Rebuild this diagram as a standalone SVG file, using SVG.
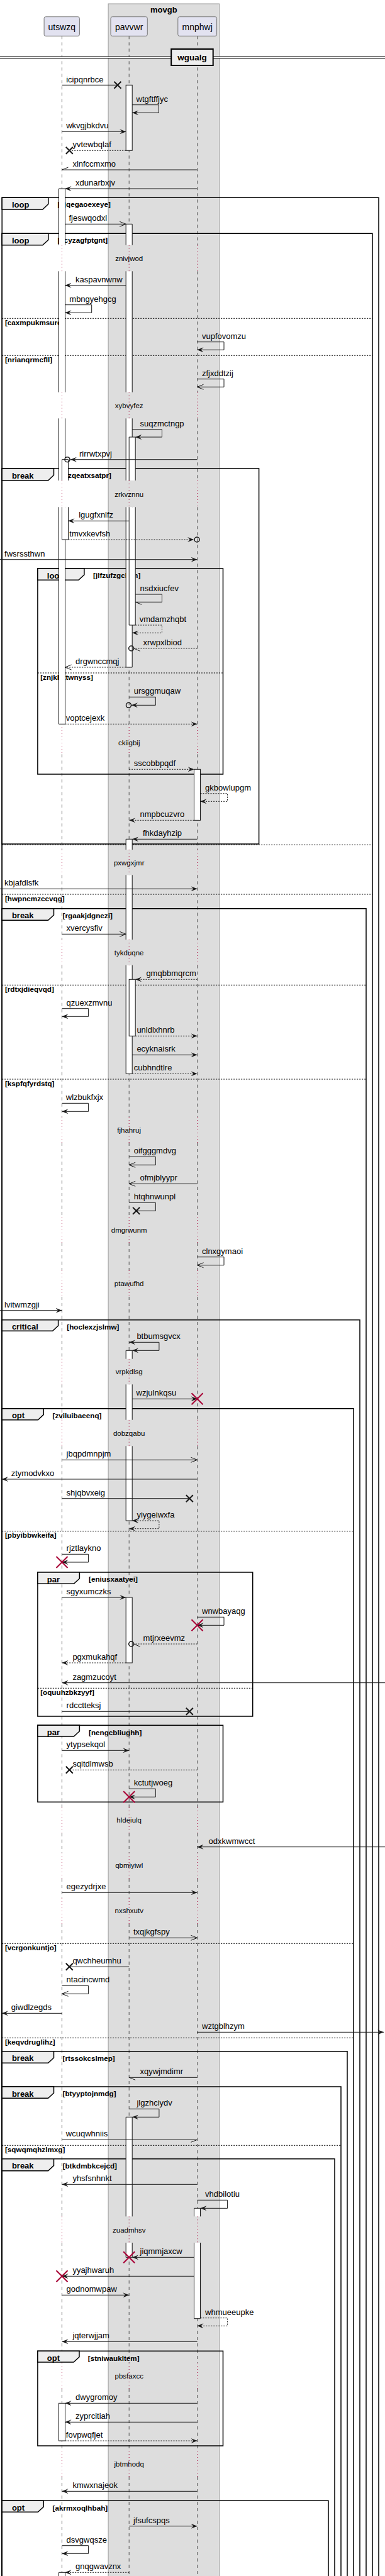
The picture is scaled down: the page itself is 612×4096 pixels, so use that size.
<svg xmlns="http://www.w3.org/2000/svg" width="612" height="4096" viewBox="0 0 612 4096">
<style>
.ll{stroke:#555;stroke-width:1;stroke-dasharray:5,5;fill:none}
.dl{stroke:#A80036;stroke-width:1;stroke-dasharray:1,4;fill:none}
.af{fill:#fff;stroke:none}
.as{fill:none;stroke:#181818;stroke-width:1}
.ac{fill:#fff;stroke:#181818;stroke-width:1}
.fr{fill:none;stroke:#000;stroke-width:1.5}
.tab{fill:#EEEEEE;stroke:#000;stroke-width:1.5}
.el{stroke:#000;stroke-width:1;stroke-dasharray:2,2;fill:none}
.m{stroke:#181818;stroke-width:1;fill:none}
.d{stroke-dasharray:2,2}
.x{stroke:#181818;stroke-width:2;fill:none}
.rx{stroke:#A80036;stroke-width:2;fill:none}
.c{stroke:#181818;stroke-width:1.5;fill:none}
.pb{fill:#E2E2F0;stroke:#777;stroke-width:1}
text{font-family:"Liberation Sans",Arial,sans-serif;fill:#000}
.t{font-size:13px}
.pt{font-size:14px;text-anchor:middle}
.dt{font-size:11.5px;text-anchor:middle}
.ft{font-size:13px;font-weight:bold}
.ct{font-size:11.7px;font-weight:bold}
</style>
<defs>
<marker id="fa" viewBox="0 0 10 8" refX="10" refY="4" markerWidth="10" markerHeight="8" markerUnits="userSpaceOnUse" orient="auto-start-reverse"><path d="M0,0 L10,4 L0,8 L4,4Z" fill="#181818"/></marker>
<marker id="oa" viewBox="-1 -1 12 10" refX="10" refY="4" markerWidth="12" markerHeight="10" markerUnits="userSpaceOnUse" orient="auto" style="overflow:visible"><path d="M0,0 L10,4 L0,8" fill="none" stroke="#181818" stroke-width="1"/></marker>
</defs>
<rect width="612" height="4096" fill="#fff"/>
<g id="box-movgb">
<rect x="172.1" y="6" width="176.5" height="4100" fill="#DDDDDD" stroke="#999" stroke-width="1"/>
<text x="260.3" y="19.5" class="ft" text-anchor="middle">movgb</text>
</g>
<g id="lifelines">
<path class="ll" d="M98.5,57.3V389.7M98.5,431.3V623.7M98.5,665.3V764M98.5,806.3V1156M98.5,1199.3V1351M98.5,1391.3V1494M98.5,1534.7V1776M98.5,1817V1935M98.5,1976V2020M98.5,2062V2160.7M98.5,2201.3V2257.7M98.5,2299.3V2874M98.5,2915V2946M98.5,2987V3018M98.5,3059V3524.3M98.5,3566V3757M98.5,3798V3897M98.5,3938V4096"/>
<path class="ll" d="M205.2,57.3V389.7M205.2,431.3V623.7M205.2,665.3V764M205.2,806.3V1156M205.2,1199.3V1351M205.2,1391.3V1494M205.2,1534.7V1776M205.2,1817V1935M205.2,1976V2020M205.2,2062V2160.7M205.2,2201.3V2257.7M205.2,2299.3V2874M205.2,2915V2946M205.2,2987V3018M205.2,3059V3524.3M205.2,3566V3757M205.2,3798V3897M205.2,3938V4096"/>
<path class="ll" d="M313.5,57.3V389.7M313.5,431.3V623.7M313.5,665.3V764M313.5,806.3V1156M313.5,1199.3V1351M313.5,1391.3V1494M313.5,1534.7V1776M313.5,1817V1935M313.5,1976V2020M313.5,2062V2160.7M313.5,2201.3V2257.7M313.5,2299.3V2874M313.5,2915V2946M313.5,2987V3018M313.5,3059V3524.3M313.5,3566V3757M313.5,3798V3897M313.5,3938V4096"/>
<path class="dl" d="M98.5,389.7V431.3M98.5,623.7V665.3M98.5,764V806.3M98.5,1156V1199.3M98.5,1351V1391.3M98.5,1494V1534.7M98.5,1776V1817M98.5,1935V1976M98.5,2020V2062M98.5,2160.7V2201.3M98.5,2257.7V2299.3M98.5,2874V2915M98.5,2946V2987M98.5,3018V3059M98.5,3524.3V3566M98.5,3757V3798M98.5,3897V3938"/>
<path class="dl" d="M205.2,389.7V431.3M205.2,623.7V665.3M205.2,764V806.3M205.2,1156V1199.3M205.2,1351V1391.3M205.2,1494V1534.7M205.2,1776V1817M205.2,1935V1976M205.2,2020V2062M205.2,2160.7V2201.3M205.2,2257.7V2299.3M205.2,2874V2915M205.2,2946V2987M205.2,3018V3059M205.2,3524.3V3566M205.2,3757V3798M205.2,3897V3938"/>
<path class="dl" d="M313.5,389.7V431.3M313.5,623.7V665.3M313.5,764V806.3M313.5,1156V1199.3M313.5,1351V1391.3M313.5,1494V1534.7M313.5,1776V1817M313.5,1935V1976M313.5,2020V2062M313.5,2160.7V2201.3M313.5,2257.7V2299.3M313.5,2874V2915M313.5,2946V2987M313.5,3018V3059M313.5,3524.3V3566M313.5,3757V3798M313.5,3897V3938"/>
<text x="205.2" y="415" class="dt">znivjwod</text>
<text x="205.2" y="649" class="dt">xybvyfez</text>
<text x="205.2" y="790" class="dt">zrkvznnu</text>
<text x="205.2" y="1185" class="dt">ckiigbij</text>
<text x="205.2" y="1376" class="dt">pxwgxjmr</text>
<text x="205.2" y="1519" class="dt">tykduqne</text>
<text x="205.2" y="1800.5" class="dt">fjhahruj</text>
<text x="205.2" y="1959.5" class="dt">dmgrwunm</text>
<text x="205.2" y="2045" class="dt">ptawufhd</text>
<text x="205.2" y="2185" class="dt">vrpkdlsg</text>
<text x="205.2" y="2283" class="dt">dobzqabu</text>
<text x="205.2" y="2898" class="dt">hldeiulq</text>
<text x="205.2" y="2970" class="dt">qbmiyiwl</text>
<text x="205.2" y="3042" class="dt">nxshxutv</text>
<text x="205.2" y="3550" class="dt">zuadmhsv</text>
<text x="205.2" y="3782" class="dt">pbsfaxcc</text>
<text x="205.2" y="3922" class="dt">jbtmhodq</text>
</g>
<g id="utswzq"><rect x="70.1" y="26.7" width="56.3" height="30.6" rx="2.5" class="pb"/><text x="98.3" y="47.5" class="pt">utswzq</text></g>
<g id="pavvwr"><rect x="176" y="26.7" width="58.3" height="30.6" rx="2.5" class="pb"/><text x="205.2" y="47.5" class="pt">pavvwr</text></g>
<g id="mnphwj"><rect x="282.8" y="26.7" width="61.8" height="30.6" rx="2.5" class="pb"/><text x="313.7" y="47.5" class="pt">mnphwj</text></g>
<g id="divider-wgualg">
<rect x="0" y="90" width="612" height="2.7" fill="#fff"/>
<path d="M0,90H612M0,92.7H612" stroke="#000" stroke-width="1"/>
<rect x="272.2" y="78" width="66.5" height="26" fill="#EEEEEE" stroke="#000" stroke-width="2"/>
<text x="305.4" y="96" font-size="13.5" font-weight="bold" text-anchor="middle">wgualg</text>
</g>
<g id="frames">
<g id="f-loop1"><path class="fr" d="M3.2,4100V314.3H602V4100"/><polygon class="tab" points="3.2,314.3 76.8,314.3 76.8,324.5 67.8,333 3.2,333"/><text x="18.9" y="329.5" class="ft">loop</text><text x="91.4" y="329.3" class="ct">[cjqegaoexeye]</text></g>
<g id="f-loop2"><path class="fr" d="M3.2,4100V371.3H592V4100"/><polygon class="tab" points="3.2,371.3 76.8,371.3 76.8,381.5 67.8,389.7 3.2,389.7"/><text x="18.9" y="386.5" class="ft">loop</text><text x="91.4" y="386.3" class="ct">[ccyzagfptgnt]</text>
<path class="el" d="M3.2,506.3H592M3.2,565.3H592M3.2,1343.3H592M3.2,1422H592"/>
<text x="7.9" y="516.8" class="ct">[caxmpukmsurq]</text><text x="7.9" y="575.8" class="ct">[nrianqrmcfll]</text><text x="7.9" y="1432.5" class="ct">[hwpncmzccvqg]</text></g>
<g id="f-break1"><rect class="fr" x="3.2" y="745" width="408.4" height="597"/><polygon class="tab" points="3.2,745 85.5,745 85.5,755.5 76.5,764 3.2,764"/><text x="18.9" y="760.5" class="ft">break</text><text x="99.6" y="760.3" class="ct">[rzqeatxsatpr]</text></g>
<g id="f-loop3"><rect class="fr" x="59.9" y="904" width="294.6" height="327"/><polygon class="tab" points="59.9,904 133.9,904 133.9,914 124.9,922.3 59.9,922.3"/><text x="74.8" y="919.5" class="ft">loop</text><text x="148.1" y="919.3" class="ct">[jlfzufzgchjm]</text>
<path class="el" d="M59.9,1070H354.5"/><text x="64.2" y="1080.5" class="ct">[znjkhktwnyss]</text></g>
<g id="f-break2"><path class="fr" d="M3.2,4100V1444.7H582V4100"/><polygon class="tab" points="3.2,1444.7 85.5,1444.7 85.5,1455 76.5,1463.3 3.2,1463.3"/><text x="18.9" y="1460.2" class="ft">break</text><text x="99.6" y="1460" class="ct">[rgaakjdgnezi]</text>
<path class="el" d="M3.2,1566.3H582M3.2,1716H582"/><text x="7.9" y="1576.8" class="ct">[rdtxjdieqvqd]</text><text x="7.9" y="1726.5" class="ct">[kspfqfyrdstq]</text></g>
<g id="f-critical"><path class="fr" d="M3.2,4100V2098.7H572V4100"/><polygon class="tab" points="3.2,2098.7 92.6,2098.7 92.6,2108 83.6,2116.3 3.2,2116.3"/><text x="18.9" y="2114.2" class="ft">critical</text><text x="106.3" y="2114" class="ct">[hoclexzjslmw]</text></g>
<g id="f-opt1"><path class="fr" d="M3.2,4100V2239.7H562V4100"/><polygon class="tab" points="3.2,2239.7 69.3,2239.7 69.3,2249.3 60.3,2257.7 3.2,2257.7"/><text x="18.9" y="2255.2" class="ft">opt</text><text x="83.5" y="2255" class="ct">[zviluibaeenq]</text>
<path class="el" d="M3.2,2434.7H562M3.2,3090.3H562M3.2,3240.3H562"/><text x="7.9" y="2445.2" class="ct">[pbyibbwkeifa]</text><text x="7.9" y="3100.8" class="ct">[vcrgonkuntjo]</text><text x="7.9" y="3250.8" class="ct">[keqvdruglihz]</text></g>
<g id="f-par1"><rect class="fr" x="59.9" y="2500" width="341.8" height="229"/><polygon class="tab" points="59.9,2500 126.4,2500 126.4,2510 117.4,2518.3 59.9,2518.3"/><text x="74.8" y="2515.5" class="ft">par</text><text x="141" y="2515.3" class="ct">[eniusxaatyei]</text>
<path class="el" d="M59.9,2684.3H401.7"/><text x="64.2" y="2694.8" class="ct">[oquuhzbkzyyf]</text></g>
<g id="f-par2"><rect class="fr" x="59.9" y="2743.3" width="294.6" height="122"/><polygon class="tab" points="59.9,2743.3 126.4,2743.3 126.4,2752.7 117.4,2761 59.9,2761"/><text x="74.8" y="2758.8" class="ft">par</text><text x="141" y="2758.6" class="ct">[nengcbliughh]</text></g>
<g id="f-break3"><path class="fr" d="M3.2,4100V3261.7H552V4100"/><polygon class="tab" points="3.2,3261.7 85.5,3261.7 85.5,3272 76.5,3280.3 3.2,3280.3"/><text x="18.9" y="3277.2" class="ft">break</text><text x="99.6" y="3277" class="ct">[rtssokcslmep]</text></g>
<g id="f-break4"><path class="fr" d="M3.2,4100V3318H542V4100"/><polygon class="tab" points="3.2,3318 85.5,3318 85.5,3328 76.5,3336.3 3.2,3336.3"/><text x="18.9" y="3333.5" class="ft">break</text><text x="99.6" y="3333.3" class="ct">[btyyptojnmdg]</text>
<path class="el" d="M3.2,3411.3H542"/><text x="7.9" y="3421.8" class="ct">[sqwqmqhzlmxg]</text></g>
<g id="f-break5"><path class="fr" d="M3.2,4100V3432.7H532V4100"/><polygon class="tab" points="3.2,3432.7 85.5,3432.7 85.5,3443.3 76.5,3451.7 3.2,3451.7"/><text x="18.9" y="3448.2" class="ft">break</text><text x="99.6" y="3448" class="ct">[btkdmbkcejcd]</text></g>
<g id="f-opt2"><rect class="fr" x="59.9" y="3738.3" width="294.6" height="150.7"/><polygon class="tab" points="59.9,3738.3 126,3738.3 126,3747.7 117,3756 59.9,3756"/><text x="74.8" y="3753.8" class="ft">opt</text><text x="139.8" y="3753.6" class="ct">[stniwaukltem]</text></g>
<g id="f-opt3"><path class="fr" d="M3.2,4100V3976.3H522V4100"/><polygon class="tab" points="3.2,3976.3 69.3,3976.3 69.3,3986 60.3,3994.3 3.2,3994.3"/><text x="18.9" y="3991.8" class="ft">opt</text><text x="83.5" y="3991.6" class="ct">[akrmxoqlhbah]</text></g>
</g>
<g id="activations">
<rect class="af" x="93.5" y="300" width="10" height="89.7"/><rect class="af" x="93.5" y="431.3" width="10" height="192.4"/><rect class="af" x="93.5" y="665.3" width="10" height="98.7"/><rect class="af" x="93.5" y="806.3" width="10" height="345"/>
<path class="as" d="M93.5,389.7V300H103.5V389.7M93.5,431.3V623.7M103.5,431.3V623.7M93.5,665.3V764M103.5,665.3V764M93.5,806.3V1151.3H103.5V806.3"/>
<rect class="af" x="98.5" y="730.7" width="10" height="33.3"/><rect class="af" x="98.5" y="806.3" width="10" height="51.7"/>
<path class="as" d="M98.5,764V730.7H108.5V764M98.5,806.3V858H108.5V806.3"/>
<rect class="ac" x="93.5" y="3821.3" width="10" height="59.7"/>
<rect class="af" x="93.5" y="4090.3" width="10" height="10"/><path class="as" d="M93.5,4100V4090.3H103.5V4100"/>
<rect class="ac" x="200.2" y="135.3" width="10" height="104"/>
<rect class="af" x="200.2" y="356.3" width="10" height="33.4"/><rect class="af" x="200.2" y="431.3" width="10" height="192.4"/><rect class="af" x="200.2" y="665.3" width="10" height="98.7"/><rect class="af" x="200.2" y="806.3" width="10" height="254.7"/>
<path class="as" d="M200.2,389.7V356.3H210.2V389.7M200.2,431.3V623.7M210.2,431.3V623.7M200.2,665.3V764M210.2,665.3V764M200.2,806.3V1061H210.2V806.3"/>
<rect class="af" x="205.2" y="695" width="10" height="69"/><rect class="af" x="205.2" y="806.3" width="10" height="187.7"/>
<path class="as" d="M205.2,764V695H215.2V764M205.2,806.3V994H215.2V806.3"/>
<rect class="af" x="200.2" y="1334.3" width="10" height="16.7"/><rect class="af" x="200.2" y="1391.3" width="10" height="102.7"/><rect class="af" x="200.2" y="1534.7" width="10" height="172.6"/>
<path class="as" d="M200.2,1351V1334.3H210.2V1351M200.2,1391.3V1494M210.2,1391.3V1494M200.2,1534.7V1707.3H210.2V1534.7"/>
<rect class="ac" x="205.2" y="1557.3" width="10" height="90"/>
<rect class="af" x="200.2" y="2147.3" width="10" height="13.4"/><rect class="af" x="200.2" y="2201.3" width="10" height="56.4"/><rect class="af" x="200.2" y="2299.3" width="10" height="118.7"/>
<path class="as" d="M200.2,2160.7V2147.3H210.2V2160.7M200.2,2201.3V2257.7M210.2,2201.3V2257.7M200.2,2299.3V2418H210.2V2299.3"/>
<rect class="ac" x="200.2" y="2540" width="10" height="104"/>
<rect class="af" x="200.2" y="3366.3" width="10" height="158"/><rect class="af" x="200.2" y="3566" width="10" height="23.3"/>
<path class="as" d="M200.2,3524.3V3366.3H210.2V3524.3M200.2,3566V3589.3H210.2V3566"/>
<rect class="ac" x="308.5" y="1223.3" width="10" height="81"/>
<rect class="af" x="308.5" y="3511.3" width="10" height="13"/><rect class="af" x="308.5" y="3566" width="10" height="120.7"/>
<path class="as" d="M308.5,3524.3V3511.3H318.5V3524.3M308.5,3566V3686.7H318.5V3566"/>
</g>
<g id="messages">
<path class="m" d="M98.5,135.3H187"/><path class="x" d="M181.5,129.8L192.5,140.8M192.5,129.8L181.5,140.8"/><text x="105.2" y="130.5" class="t">icipqnrbce</text>
<path class="m" d="M210.2,166.7H252.5V179.3H210.2" marker-end="url(#fa)"/><text x="216.6" y="161.7" class="t">wtgftffjyc</text>
<path class="m" d="M98.5,209.3H200.2" marker-end="url(#fa)"/><text x="105.2" y="204.3" class="t">wkvgjbkdvu</text>
<path class="m d" d="M200.2,239.3H110.3"/><path class="x" d="M104.8,233.8L115.8,244.8M115.8,233.8L104.8,244.8"/><text x="115.4" y="234.3" class="t">yvtewbqlaf</text>
<path class="m" d="M313.5,270H98.5L108.5,266"/><text x="115.4" y="265" class="t">xlnfccmxmo</text>
<path class="m" d="M313.5,300H103.5" marker-end="url(#fa)"/><text x="120.1" y="295" class="t">xdunarbxjv</text>
<path class="m" d="M103.5,356.3H200.2" marker-end="url(#oa)"/><text x="109.5" y="351.3" class="t">fjeswqodxl</text>
<path class="m" d="M200.2,453.7H103.5" marker-end="url(#fa)"/><text x="120.1" y="448.7" class="t">kaspavnwnw</text>
<path class="m" d="M103.5,484.7H145.7V497.3H103.5" marker-end="url(#fa)"/><text x="110.3" y="479.7" class="t">mbngyehgcg</text>
<path class="m" d="M313.5,543.7H356V556.3H313.5" marker-end="url(#fa)"/><text x="321" y="538.7" class="t">vupfovomzu</text>
<path class="m" d="M313.5,602.7H356V615.3H313.5" marker-end="url(#oa)"/><text x="321" y="597.7" class="t">zfjxddtzij</text>
<path class="m" d="M210.2,682.7H257.5V695H215.2" marker-end="url(#fa)"/><text x="222.5" y="677.7" class="t">suqzmctngp</text>
<path class="m" d="M313.5,730.7H112" marker-end="url(#fa)"/><circle class="c" cx="107" cy="730.7" r="4"/><text x="126" y="725.7" class="t">rirrwtxpvj</text>
<path class="m" d="M205.2,828.3H108.5" marker-end="url(#fa)"/><text x="125.2" y="823.3" class="t">lgugfxnlfz</text>
<path class="m d" d="M108.5,858H308" marker-end="url(#fa)"/><circle class="c" cx="313.1" cy="858" r="4"/><text x="110.3" y="853" class="t">tmvxkevfsh</text>
<path class="m" d="M0,889.7H313.5" marker-end="url(#fa)"/><text x="7.1" y="884.7" class="t">fwsrssthwn</text>
<path class="m" d="M215.2,945H257.5V957.3H215.2L225.2,961.3"/><text x="222.5" y="940" class="t">nsdxiucfev</text>
<path class="m d" d="M215.2,994H257.5V1006.3H210.2" marker-end="url(#fa)"/><text x="221.7" y="989" class="t">vmdamzhqbt</text>
<path class="m d" d="M313.5,1031H212.7"/><path class="m" d="M212.7,1031L222.7,1035.3"/><circle class="c" cx="208.7" cy="1031" r="4"/><text x="227.6" y="1026" class="t">xrwpxlbiod</text>
<path class="m d" d="M200.2,1061H103.5" marker-end="url(#oa)"/><text x="120.1" y="1056" class="t">drgwnccmqj</text>
<path class="m" d="M205.2,1108.3H247.3V1121.3H209" marker-end="url(#fa)"/><circle class="c" cx="204.5" cy="1121.3" r="4"/><text x="212.7" y="1103.3" class="t">ursggmuqaw</text>
<path class="m d" d="M103.5,1151.3H313.5" marker-end="url(#fa)"/><text x="104.8" y="1146.3" class="t">voptcejexk</text>
<path class="m d" d="M205.2,1223.3H308.5" marker-end="url(#fa)"/><text x="212.7" y="1218.3" class="t">sscobbpqdf</text>
<path class="m d" d="M318.5,1261.7H361.5V1274.3H318.5" marker-end="url(#fa)"/><text x="326.1" y="1256.7" class="t">gkbowlupgm</text>
<path class="m d" d="M308.5,1304.3H205.2" marker-end="url(#fa)"/><text x="222.5" y="1299.3" class="t">nmpbcuzvro</text>
<path class="m" d="M313.5,1334.3H210.2" marker-end="url(#fa)"/><text x="226.9" y="1329.3" class="t">fhkdayhzip</text>
<path class="m" d="M0,1413.3H313.5" marker-end="url(#fa)"/><text x="7.1" y="1408.3" class="t">kbjafdlsfk</text>
<path class="m" d="M98.5,1485.3H200.2" marker-end="url(#oa)"/><text x="105.6" y="1480.3" class="t">xvercysfiv</text>
<path class="m d" d="M313.5,1557.3H215.2" marker-end="url(#fa)"/><text x="232.4" y="1552.3" class="t">gmqbbmqrcm</text>
<path class="m" d="M98.5,1603.7H140.6V1616.3H98.5" marker-end="url(#fa)"/><text x="105.6" y="1598.7" class="t">qzuexzmvnu</text>
<path class="m d" d="M215.2,1647.3H313.5" marker-end="url(#fa)"/><text x="217.4" y="1642.3" class="t">unldlxhnrb</text>
<path class="m" d="M210.2,1677.3H313.5" marker-end="url(#fa)"/><text x="217.4" y="1672.3" class="t">ecyknaisrk</text>
<path class="m d" d="M210.2,1707.3H313.5" marker-end="url(#fa)"/><text x="212.7" y="1702.3" class="t">cubhndtlre</text>
<path class="m" d="M98.5,1754.3H140.6V1767.3H98.5" marker-end="url(#fa)"/><text x="104.8" y="1749.3" class="t">wlzbukfxjx</text>
<path class="m" d="M205.2,1839.3H247.3V1852.3H205.2" marker-end="url(#oa)"/><text x="212.7" y="1834.3" class="t">oifgggmdvg</text>
<path class="m" d="M313.5,1882.3H205.2" marker-end="url(#oa)"/><text x="222.5" y="1877.3" class="t">ofmjblyypr</text>
<path class="m" d="M205.2,1912.3H247.3V1925.3H216.6"/><path class="x" d="M211.1,1919.8L222.1,1930.8M222.1,1919.8L211.1,1930.8"/><text x="212.7" y="1907.3" class="t">htqhnwunpl</text>
<path class="m" d="M313.5,1998.7H356V2011.7H313.5" marker-end="url(#oa)"/><text x="321" y="1993.7" class="t">clnxgymaoi</text>
<path class="m" d="M0,2083.7H98.5" marker-end="url(#fa)"/><text x="7.1" y="2078.7" class="t">lvitwmzgji</text>
<path class="m" d="M205.2,2134.3H252.9V2147.3H210.2" marker-start="url(#fa)" marker-end="url(#fa)"/><text x="217.4" y="2129.3" class="t">btbumsgvcx</text>
<path class="m" d="M210.2,2224.3H313.5" marker-end="url(#fa)"/><path class="rx" d="M304.5,2215.3L322.5,2233.3M322.5,2215.3L304.5,2233.3"/><text x="216.6" y="2219.3" class="t">wzjulnkqsu</text>
<path class="m" d="M98.5,2321.3H313.5" marker-end="url(#oa)"/><text x="105.6" y="2316.3" class="t">jbqpdmnpjm</text>
<path class="m" d="M313.5,2352H3" marker-end="url(#fa)"/><text x="17.7" y="2347" class="t">ztymodvkxo</text>
<path class="m" d="M98.5,2382.7H301.3"/><path class="x" d="M295.8,2377.2L306.8,2388.2M306.8,2377.2L295.8,2388.2"/><text x="105.6" y="2377.7" class="t">shjqbvxeig</text>
<path class="m d" d="M210.2,2418H252.9V2430.7H205.2" marker-start="url(#fa)" marker-end="url(#fa)"/><text x="217.4" y="2413" class="t">yiygeiwxfa</text>
<path class="m" d="M98.5,2471.3H140.6V2484H98.5" marker-end="url(#fa)"/><path class="rx" d="M89.5,2475L107.5,2493M107.5,2475L89.5,2493"/><text x="105.6" y="2466.3" class="t">rjztlaykno</text>
<path class="m" d="M98.5,2540H200.2" marker-end="url(#fa)"/><text x="105.6" y="2535" class="t">sgyxumczks</text>
<path class="m" d="M313.5,2571.3H356V2584.3H313.5" marker-end="url(#fa)"/><path class="rx" d="M304.5,2575.3L322.5,2593.3M322.5,2575.3L304.5,2593.3"/><text x="321" y="2566.3" class="t">wnwbayaqg</text>
<path class="m d" d="M313.5,2614H212.7"/><path class="m" d="M212.7,2614L222.7,2618.3"/><circle class="c" cx="208.7" cy="2614" r="4"/><text x="227.6" y="2609" class="t">mtjrxeevmz</text>
<path class="m d" d="M200.2,2644H98.5" marker-end="url(#fa)"/><text x="115.4" y="2639" class="t">pgxmukahqf</text>
<path class="m" d="M612,2675.7H98.5" marker-end="url(#fa)"/><text x="115.4" y="2670.7" class="t">zagmzucoyt</text>
<path class="m" d="M98.5,2721.3H301.3"/><path class="x" d="M295.8,2715.8L306.8,2726.8M306.8,2715.8L295.8,2726.8"/><text x="105.6" y="2716.3" class="t">rdcctteksj</text>
<path class="m" d="M98.5,2783.3H205.2" marker-end="url(#fa)"/><text x="105.6" y="2778.3" class="t">ytypsekqol</text>
<path class="m d" d="M313.5,2814.3H110.3"/><path class="x" d="M104.8,2808.8L115.8,2819.8M115.8,2808.8L104.8,2819.8"/><text x="115.4" y="2809.3" class="t">sqitdlmwsb</text>
<path class="m" d="M205.2,2844.3H247.3V2857.3H205.2" marker-end="url(#fa)"/><path class="rx" d="M196.2,2848.3L214.2,2866.3M214.2,2848.3L196.2,2866.3"/><text x="212.7" y="2839.3" class="t">kctutjwoeg</text>
<path class="m" d="M612,2936.7H313.5" marker-end="url(#fa)"/><text x="331.6" y="2931.7" class="t">odxkwmwcct</text>
<path class="m" d="M98.5,3009.3H313.5" marker-end="url(#fa)"/><text x="105.6" y="3004.3" class="t">egezydrjxe</text>
<path class="m" d="M205.2,3081.3H313.5" marker-end="url(#oa)"/><text x="211.9" y="3076.3" class="t">txqjkgfspy</text>
<path class="m" d="M205.2,3127.3H110.3"/><path class="x" d="M104.8,3121.8L115.8,3132.8M115.8,3121.8L104.8,3132.8"/><text x="115.4" y="3122.3" class="t">qwchheumhu</text>
<path class="m" d="M98.5,3157.3H140.6V3170.3H98.5" marker-end="url(#oa)"/><text x="105.6" y="3152.3" class="t">ntacincwmd</text>
<path class="m" d="M98.5,3201.3H3" marker-end="url(#fa)"/><text x="17.7" y="3196.3" class="t">giwdlzegds</text>
<path class="m" d="M313.5,3231.3H610" marker-end="url(#fa)"/><text x="321" y="3226.3" class="t">wztgblhzym</text>
<path class="m" d="M313.5,3303.3H205.2L215.2,3307.3"/><text x="222.5" y="3298.3" class="t">xqywjmdimr</text>
<path class="m" d="M205.2,3353.3H252.9V3366.3H210.2" marker-end="url(#fa)"/><text x="217.4" y="3348.3" class="t">jlgzhciydv</text>
<path class="m" d="M98.5,3402.3H313.5L303.5,3406.3"/><text x="104.8" y="3397.3" class="t">wcuqwhniis</text>
<path class="m" d="M313.5,3473.3H98.5" marker-end="url(#fa)"/><text x="115.4" y="3468.3" class="t">yhsfsnhnkt</text>
<path class="m" d="M313.5,3498.3H361.6V3511.3H318.5" marker-end="url(#fa)"/><text x="326.1" y="3493.3" class="t">vhdbilotiu</text>
<path class="m" d="M308.5,3589.3H210.2" marker-end="url(#fa)"/><path class="rx" d="M196.2,3580.3L214.2,3598.3M214.2,3580.3L196.2,3598.3"/><text x="222.5" y="3584.3" class="t">jiqmmjaxcw</text>
<path class="m" d="M308.5,3619.3H98.5" marker-end="url(#fa)"/><path class="rx" d="M89.5,3610.3L107.5,3628.3M107.5,3610.3L89.5,3628.3"/><text x="115.4" y="3614.3" class="t">yyajhwaruh</text>
<path class="m" d="M98.5,3649.3H205.2" marker-end="url(#fa)"/><text x="105.6" y="3644.3" class="t">godnomwpaw</text>
<path class="m d" d="M318.5,3685.7H361.6V3698.3H313.5" marker-end="url(#fa)"/><text x="326.1" y="3680.7" class="t">whmueeupke</text>
<path class="m" d="M313.5,3723.3H98.5" marker-end="url(#fa)"/><text x="115.4" y="3718.3" class="t">jqterwjjam</text>
<path class="m" d="M313.5,3821.3H103.5" marker-end="url(#fa)"/><text x="120.1" y="3816.3" class="t">dwygromoy</text>
<path class="m" d="M313.5,3851.3H103.5" marker-end="url(#fa)"/><text x="120.1" y="3846.3" class="t">zyprcitiah</text>
<path class="m d" d="M103.5,3881H313.5" marker-end="url(#fa)"/><text x="104.8" y="3876" class="t">fovpwqfjet</text>
<path class="m" d="M313.5,3961.3H98.5" marker-end="url(#fa)"/><text x="115.4" y="3956.3" class="t">kmwxnajeok</text>
<path class="m" d="M205.2,4016.7H313.5" marker-end="url(#fa)"/><text x="211.9" y="4011.7" class="t">jfsufcspqs</text>
<path class="m" d="M98.5,4047.7H140.6V4060.3H98.5" marker-end="url(#fa)"/><text x="105.6" y="4042.7" class="t">dsvgwqsze</text>
<path class="m d" d="M205.2,4090.3H103.5" marker-end="url(#fa)"/><text x="120.1" y="4085.3" class="t">gnqgwavznx</text>
</g>
</svg>
